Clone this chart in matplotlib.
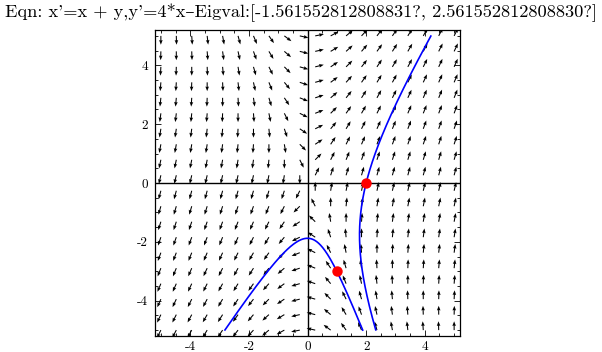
import numpy as np
import matplotlib
matplotlib.use("Agg")
import matplotlib.pyplot as plt
from matplotlib.ticker import MultipleLocator

# system x' = A[0] . (x, y), y' = A[1] . (x, y)
A = np.array([[1.0, 1.0],
              [4.0, 0.0]])
start_x = [2.0, 1.0]
start_y = [0.0, -3.0]
title = "Eqn: x'=x + y,y'=4*x–Eigval:[-1.561552812808831?, 2.561552812808830?]"
ticks = [-4, -2, 0, 2, 4]
tick_labels = ["-4", "-2", "0", "2", "4"]

plt.rcParams["font.family"] = ["cmr10", "DejaVu Serif"]

fig = plt.figure(figsize=(6.02, 3.52), dpi=100)
ax = fig.add_axes([155 / 602, 1 - 336 / 352, 305 / 602, 306 / 352])

# ---------- direction field (normalised arrows) ----------
g = np.linspace(-5, 5, 20)
X, Y = np.meshgrid(g, g)
U = A[0, 0] * X + A[0, 1] * Y
V = A[1, 0] * X + A[1, 1] * Y
n = np.hypot(U, V)
n[n == 0] = 1
L = 0.3
ax.quiver(X, Y, U / n * L, V / n * L, angles="xy", scale_units="xy", scale=1,
          units="xy", width=0.036, headwidth=3.4, headlength=4.4,
          headaxislength=4.0, color="black", zorder=2)

# ---------- trajectories through the start points ----------
w, vecs = np.linalg.eig(A)
t = np.linspace(-3, 3, 4000)
for x0, y0 in zip(start_x, start_y):
    c = np.linalg.solve(vecs, np.array([x0, y0]))
    P = vecs @ (c[:, None] * np.exp(w[:, None] * t))
    px, py = P[0].copy(), P[1].copy()
    out = (np.abs(px) > 5) | (np.abs(py) > 5)
    px[out] = np.nan
    py[out] = np.nan
    ax.plot(px, py, color="#0000ff", lw=1.2, zorder=3)
ax.plot(start_x, start_y, "o", color="#ff0000", ms=7.5, mec="none", zorder=4)

# ---------- axes through the origin ----------
ax.axhline(0, color="black", lw=1.0, zorder=1)
ax.axvline(0, color="black", lw=1.0, zorder=1)

ax.set_xlim(-5.2, 5.2)
ax.set_ylim(-5.2, 5.2)
ax.set_xticks(ticks)
ax.set_xticklabels(tick_labels)
ax.set_yticks(ticks)
ax.set_yticklabels(tick_labels)
ax.xaxis.set_minor_locator(MultipleLocator(0.5))
ax.yaxis.set_minor_locator(MultipleLocator(0.5))
ax.tick_params(which="both", direction="in", top=True, right=True,
               labelsize=9.5, width=0.6)
ax.tick_params(axis="x", which="major", pad=3.5)
ax.tick_params(axis="y", which="major", pad=5)
ax.tick_params(which="major", length=4)
ax.tick_params(which="minor", length=2)
for s in ax.spines.values():
    s.set_linewidth(0.9)

fig.text(0.5, 1 - 17 / 352, title, ha="center", va="baseline", fontsize=13.2)

fig.savefig("out.png", dpi=100)
